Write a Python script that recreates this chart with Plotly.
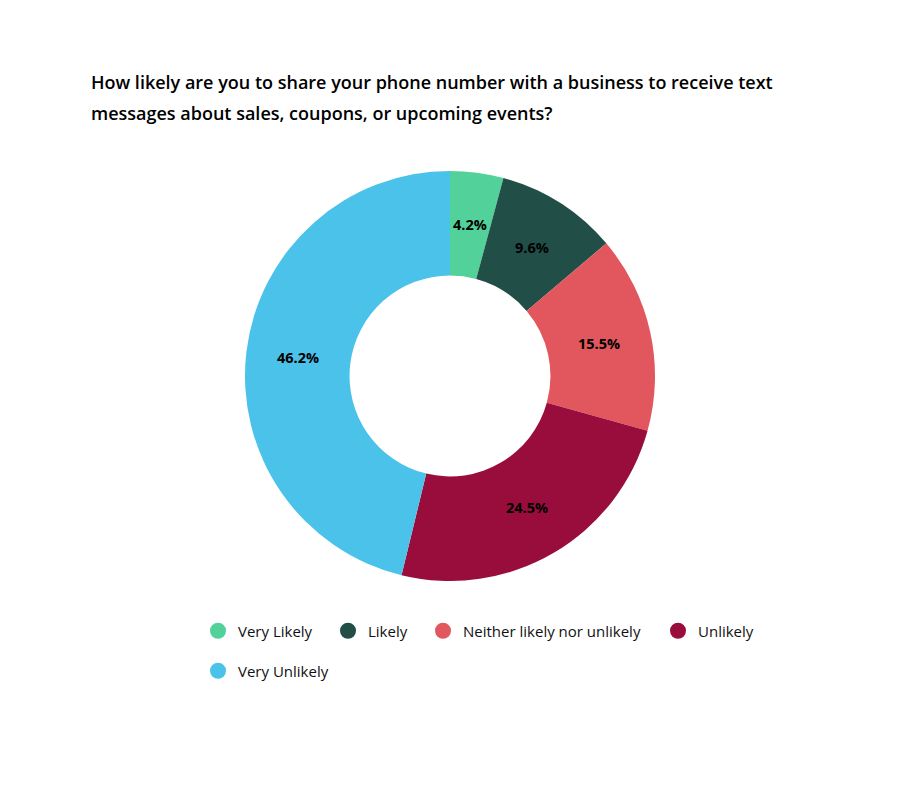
import math
import plotly.graph_objects as go

# survey answers, clockwise from the top
labels = ["Very Likely", "Likely", "Neither likely nor unlikely", "Unlikely", "Very Unlikely"]
shares = [4.2, 9.6, 15.5, 24.5, 46.2]
colors = ["#52D19A", "#214E47", "#E2575D", "#990D3C", "#4AC2EA"]

title_lines = [
    "How likely are you to share your phone number with a business to receive text",
    "messages about sales, coupons, or upcoming events?",
]

FONT = "Open Sans"
W, H = 900, 800

# the page body adds 8px on the left/top, so positions are given in figure px
CX, CY, R, HOLE = 442, 368, 205, 0.49
legend_pos = [(190, 623), (320, 623), (415, 623), (650, 623), (190, 663)]

fig = go.Figure()

fig.add_trace(go.Pie(
    labels=labels,
    values=shares,
    marker=dict(colors=colors, line=dict(width=0)),
    hole=HOLE,
    sort=False,
    direction="clockwise",
    rotation=0,
    textinfo="none",
    domain=dict(x=[(CX - R) / W, (CX + R) / W], y=[1 - (CY + R) / H, 1 - (CY - R) / H]),
    showlegend=False,
    hoverinfo="label+percent",
))

# percentage labels sit in the middle of the ring, like the original
total = sum(shares)
r_mid = R * (1 + HOLE) / 2
cum = 0
for s in shares:
    ang = math.radians(90 - 360 * (cum + s / 2) / total)
    cum += s
    fig.add_annotation(
        text="%.1f%%" % s, xref="paper", yref="paper",
        x=(CX + r_mid * math.cos(ang)) / W, y=1 - (CY - r_mid * math.sin(ang)) / H,
        xanchor="center", yanchor="middle", showarrow=False,
        font=dict(family=FONT, size=14.5, color="black", weight="bold"),
    )

leg = dict(
    orientation="h", xanchor="left", yanchor="middle",
    font=dict(family=FONT, size=15, color="#111111"),
    bgcolor="rgba(0,0,0,0)",
)
legends = {}
for i, (name, col) in enumerate(zip(labels, colors)):
    key = "legend" if i == 0 else "legend%d" % (i + 1)
    fig.add_trace(go.Scatter(
        x=[None], y=[None], mode="markers", name=name,
        marker=dict(symbol="circle", size=20, color=col),
        legend=key,
    ))
    px_x, px_y = legend_pos[i]
    legends[key] = dict(leg, x=px_x / W, y=1 - px_y / H)

for i, line in enumerate(title_lines):
    fig.add_annotation(
        text=line, xref="paper", yref="paper",
        x=81 / W, y=1 - (74 + 31 * i) / H,
        xanchor="left", yanchor="middle", showarrow=False,
        font=dict(family=FONT, size=18, color="black", weight=600),
    )

fig.update_layout(
    width=W, height=H,
    margin=dict(l=0, r=0, t=0, b=0),
    paper_bgcolor="white", plot_bgcolor="white",
    xaxis=dict(visible=False), yaxis=dict(visible=False),
    **legends,
)

fig.write_html("out.html")
